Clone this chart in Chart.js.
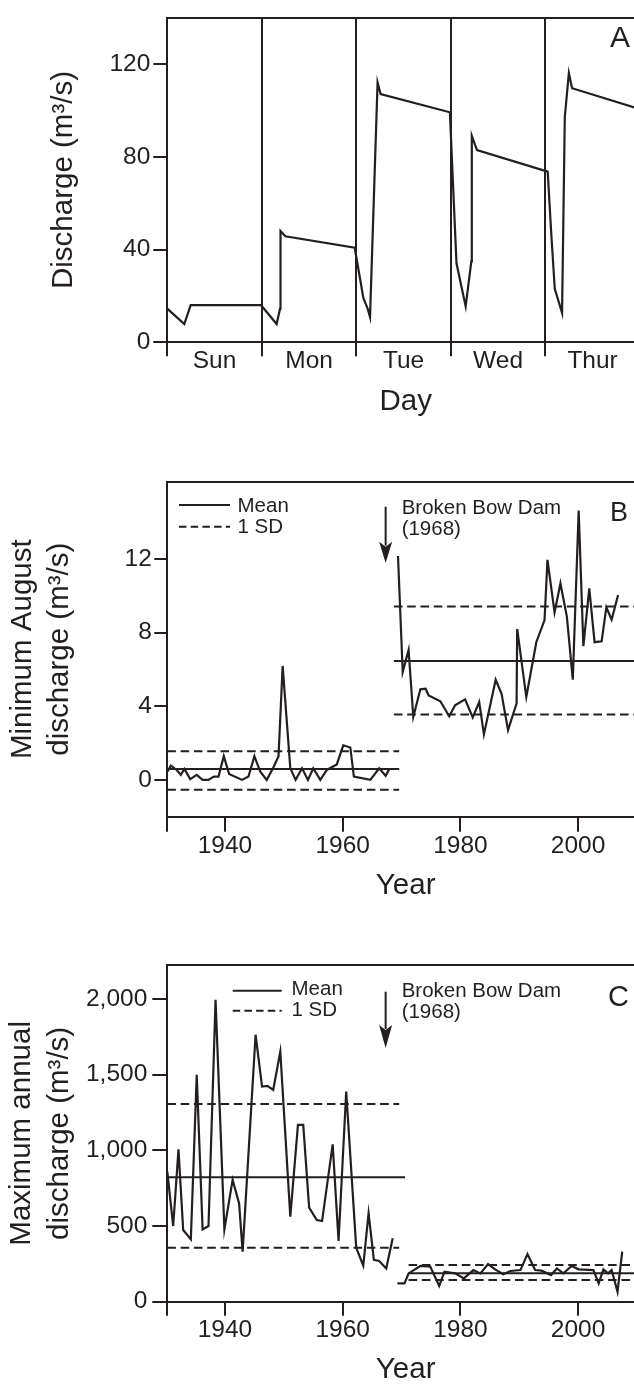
<!DOCTYPE html>
<html>
<head>
<meta charset="utf-8">
<script src="https://cdn.jsdelivr.net/npm/chart.js@4.4.1/dist/chart.umd.min.js"></script>
<style>
  html, body { margin: 0; padding: 0; background: #fff; overflow: hidden; }
  #wrap { position: relative; width: 634px; height: 1384px; overflow: hidden; background: #fff; }
  canvas { position: absolute; left: 0; }
</style>
</head>
<body>
<div id="wrap">
  <canvas id="cA" width="644" height="420" style="top:0px"></canvas>
  <canvas id="cB" width="644" height="465" style="top:440px"></canvas>
  <canvas id="cC" width="644" height="460" style="top:930px"></canvas>
</div>
<script>
// ---------------- Panel A: hourly discharge over days ----------------
const dayLabels = ['Sun', 'Mon', 'Tue', 'Wed', 'Thur'];
const dayTicks = [0, 0.5, 1, 1.5, 2, 2.5, 3, 3.5, 4, 4.5, 5];
const dischargeTicksA = [0, 40, 80, 120];
const dayTime = [0, 0.18, 0.247, 0.992, 1.157, 1.193, 1.198, 1.249, 1.983, 2.075, 2.12, 2.145, 2.225, 2.257, 2.99,
  3.06, 3.157, 3.217, 3.222, 3.277, 4.025, 4.065, 4.1, 4.177, 4.206, 4.249, 4.283, 5.044];
const dayFlow = [14.5, 7.9, 16.0, 16.0, 7.9, 14.5, 48.0, 45.7, 40.8, 19.0, 14.5, 10.9, 112.1, 107.1, 99.2,
  34.1, 15.5, 34.9, 89.1, 82.9, 73.6, 45.3, 23.1, 12.7, 97.2, 116.1, 109.6, 100.0];

// ---------------- Panel B: minimum August discharge ----------------
const yearTicks = [1940, 1960, 1980, 2000];
const minAugTicks = [0, 4, 8, 12];
const bPreYears = [1930.2, 1930.8, 1931.8, 1932.5, 1933.1, 1934.1, 1935.2, 1936.2, 1937.2, 1938.1, 1938.9, 1939.8,
  1940.7, 1942.9, 1944.0, 1945.0, 1946.0, 1947.1, 1948.2, 1949.1, 1949.8, 1951.1, 1952.0, 1953.1, 1954.1, 1955.0,
  1956.2, 1957.3, 1959.0, 1960.1, 1961.3, 1961.9, 1964.7, 1966.2, 1967.3, 1967.9];
const bPreFlow = [0.45, 0.77, 0.54, 0.27, 0.59, 0.04, 0.27, 0.0, 0.0, 0.18, 0.18, 1.29,
  0.32, 0.0, 0.18, 1.29, 0.45, 0.0, 0.66, 1.29, 6.19, 0.63, 0.0, 0.63, 0.0, 0.63,
  0.0, 0.54, 0.84, 1.88, 1.76, 0.18, 0.0, 0.63, 0.22, 0.57];
const bPostYears = [1969.4, 1970.2, 1971.2, 1972.0, 1973.2, 1974.1, 1974.6, 1976.6, 1978.1, 1979.1, 1980.8, 1982.1,
  1983.2, 1984.0, 1986.0, 1987.0, 1988.1, 1988.9, 1989.55, 1989.65, 1991.2, 1992.9, 1994.3, 1994.8, 1996.0, 1997.0,
  1998.1, 1999.1, 2000.1, 2000.9, 2001.9, 2002.8, 2004.0, 2004.8, 2005.7, 2006.8];
const bPostFlow = [12.16, 5.86, 7.06, 3.42, 4.92, 4.95, 4.59, 4.27, 3.46, 4.05, 4.38, 3.39,
  4.23, 2.47, 5.44, 4.68, 2.70, 3.51, 4.14, 8.2, 4.5, 7.48, 8.68, 11.95, 9.1, 10.67,
  8.86, 5.44, 14.63, 7.26, 10.41, 7.48, 7.53, 9.37, 8.7, 10.04];
const bPreLevels = [0.59, 1.56, -0.54];     // mean, +1 SD, -1 SD
const bPostLevels = [6.46, 9.42, 3.55];
const bPreSpan = [1930.2, 1969.6];
const bPostSpan = [1968.7, 2011.2];

// ---------------- Panel C: maximum annual discharge ----------------
const maxAnnTicks = [0, 500, 1000, 1500, 2000];
const cPreYears = [1930.2, 1931.2, 1932.1, 1932.9, 1934.2, 1935.2, 1936.2, 1937.2, 1938.4, 1939.9, 1941.3, 1942.4,
  1943.0, 1945.2, 1946.3, 1947.2, 1948.2, 1949.4, 1951.1, 1952.4, 1953.3, 1954.3, 1955.6, 1956.5, 1958.3, 1959.3,
  1960.6, 1962.3, 1963.5, 1964.4, 1965.3, 1966.2, 1967.4, 1968.5];
const cPreFlow = [860, 500, 1007, 474, 412, 1499, 478, 500, 1995, 478, 805, 650,
  331, 1764, 1422, 1426, 1400, 1653, 562, 1168, 1168, 622, 540, 533, 1040, 401,
  1389, 357, 238, 584, 276, 269, 220, 419];
const cPostYears = [1969.3, 1970.5, 1971.2, 1973.2, 1974.9, 1976.4, 1977.3, 1979.1, 1980.6, 1982.2, 1983.4, 1984.7,
  1985.9, 1987.3, 1988.5, 1990.2, 1991.4, 1992.7, 1993.8, 1995.4, 1996.4, 1997.5, 1998.9, 2000.1, 2002.6, 2003.5,
  2004.3, 2005.1, 2005.7, 2006.7, 2007.5];
const cPostFlow = [121, 121, 187, 236, 231, 104, 198, 187, 154, 209, 187, 249,
  214, 181, 203, 209, 315, 209, 205, 176, 220, 187, 236, 214, 209, 121,
  214, 187, 209, 66, 331];
const cPreLevels = [822, 1307, 357];
const cPostLevels = [188, 243, 143.5];
const cPreMeanSpan = [1930.2, 1970.6];
const cPreSdSpan = [1930.2, 1969.6];
const cPostSpan = [1971.2, 2011.2];

const yearMin = 1930.2, yearMax = 2011.2;
const damArrowYear = 1967.3;

// ---------------- styling ----------------
const INK = '#231f20';
const FONT = '"Liberation Sans", Arial, Helvetica, sans-serif';
const NONE = 'rgba(0,0,0,0)';
const DASH = [8.6, 4.7];

function pts(xs, ys) { return xs.map((x, i) => ({ x: x, y: ys[i] })); }
function seg(span, level) { return [{ x: span[0], y: level }, { x: span[1], y: level }]; }
function series(data) {
  return { data: data, borderColor: INK, borderWidth: 2.2, pointRadius: 0, tension: 0, fill: false, borderJoinStyle: 'miter' };
}
function levelLine(data, dashed) {
  return { data: data, borderColor: INK, borderWidth: 2, pointRadius: 0, tension: 0, fill: false, borderDash: dashed ? DASH : [] };
}

const annot = {
  id: 'annot',
  afterDraw(chart, _args, o) {
    if (!o || !o.letter) return;
    const c = chart.ctx;
    c.save();
    c.fillStyle = INK; c.strokeStyle = INK;
    c.font = o.letterSize + 'px ' + FONT;
    c.textAlign = 'right'; c.textBaseline = 'alphabetic';
    c.fillText(o.letter, o.letterX, o.letterY);
    if (o.legend) {
      const L = o.legend;
      c.lineWidth = 2;
      c.setLineDash([]);
      c.beginPath(); c.moveTo(L.x0, L.y1); c.lineTo(L.x1, L.y1); c.stroke();
      c.setLineDash([7.5, 4.2]);
      c.beginPath(); c.moveTo(L.x0, L.y2); c.lineTo(L.x1, L.y2); c.stroke();
      c.setLineDash([]);
      c.font = L.size + 'px ' + FONT;
      c.textAlign = 'left'; c.textBaseline = 'middle';
      c.fillText('Mean', L.tx, L.ty1);
      c.fillText('1 SD', L.tx, L.ty2);
    }
    if (o.arrow) {
      const A = o.arrow;
      const x = chart.scales.x.getPixelForValue(A.year);
      c.lineWidth = 2;
      c.beginPath(); c.moveTo(x, A.y0); c.lineTo(x, A.head + 4); c.stroke();
      c.beginPath();
      c.moveTo(x, A.tip);
      c.lineTo(x - 6.5, A.head);
      c.lineTo(x, A.head + 5);
      c.lineTo(x + 6.5, A.head);
      c.closePath(); c.fill();
      c.font = A.size + 'px ' + FONT;
      c.textAlign = 'left'; c.textBaseline = 'alphabetic';
      c.fillText('Broken Bow Dam', x + 16, A.t1);
      c.fillText('(1968)', x + 16, A.t2);
    }
    c.restore();
  }
};

function topBorder(min, max) {
  return {
    type: 'linear', position: 'top', min: min, max: max,
    grid: { display: false, drawTicks: false },
    ticks: { display: false },
    border: { display: true, color: INK, width: 2 },
    afterFit: s => { s.height = 0; }
  };
}

function yearAxis(height, tickLen, titlePad) {
  return {
    type: 'linear', min: yearMin, max: yearMax,
    afterBuildTicks: s => { s.ticks = [yearMin].concat(yearTicks).map(v => ({ value: v })); },
    ticks: {
      autoSkip: false, maxRotation: 0, padding: 0, color: INK,
      font: { family: FONT, size: 24.5 },
      callback: v => (v === yearMin ? '' : String(v))
    },
    grid: { drawOnChartArea: false, drawTicks: true, tickLength: tickLen, color: INK, tickColor: INK, lineWidth: 2 },
    border: { color: INK, width: 2 },
    title: { display: true, text: 'Year', color: INK, font: { family: FONT, size: 29.5 }, padding: { top: 0, bottom: titlePad } },
    afterFit: s => { s.height = height; }
  };
}

function leftAxis(min, max, tickVals, fmt, tickLen, pad, title, titlePad, lh) {
  return {
    type: 'linear', min: min, max: max,
    afterBuildTicks: s => { s.ticks = tickVals.map(v => ({ value: v })); },
    ticks: { autoSkip: false, padding: pad, color: INK, font: { family: FONT, size: 24.5 }, callback: fmt },
    grid: { drawOnChartArea: false, drawTicks: true, tickLength: tickLen, color: INK, tickColor: INK, lineWidth: 2 },
    border: { color: INK, width: 2 },
    title: { display: true, text: title, color: INK, font: { family: FONT, size: 29.5, lineHeight: lh }, padding: { top: titlePad, bottom: 0 } },
    afterFit: s => { s.width = 167.3; }
  };
}

const common = {
  responsive: false, animation: false, devicePixelRatio: 1,
  events: [],
  plugins: { legend: { display: false }, tooltip: { enabled: false } }
};

// ---------------- Chart A ----------------
const aMax = 5.044;
new Chart(document.getElementById('cA'), {
  type: 'line',
  data: { datasets: [series(pts(dayTime, dayFlow))] },
  plugins: [annot],
  options: Object.assign({}, common, {
    layout: { padding: { top: 5, left: 0, right: 0, bottom: 0 } },
    plugins: Object.assign({}, common.plugins, { annot: { letter: 'A', letterSize: 30, letterX: 630, letterY: 47 } }),
    scales: {
      x: {
        type: 'linear', min: 0, max: aMax,
        afterBuildTicks: s => { s.ticks = dayTicks.map(v => ({ value: v })); },
        ticks: {
          autoSkip: false, maxRotation: 0, padding: -10, color: INK,
          font: { family: FONT, size: 24.5 },
          callback: v => (Number.isInteger(v) ? '' : dayLabels[Math.floor(v)])
        },
        grid: {
          drawOnChartArea: true, drawTicks: true, tickLength: 14, lineWidth: 2,
          color: c => (c.tick && Number.isInteger(c.tick.value) ? INK : NONE),
          tickColor: c => (c.tick && Number.isInteger(c.tick.value) ? INK : NONE)
        },
        border: { color: INK, width: 2 },
        title: { display: true, text: 'Day', color: INK, font: { family: FONT, size: 29.5 }, padding: { top: 0, bottom: 0 } },
        afterFit: s => { s.height = 77.7; }
      },
      xTop: topBorder(0, aMax),
      y: leftAxis(0, 140, dischargeTicksA, v => String(v), 14, 3, 'Discharge (m³/s)', 46.5, 1.2)
    }
  })
});

// ---------------- Chart B ----------------
new Chart(document.getElementById('cB'), {
  type: 'line',
  data: {
    datasets: [
      levelLine(seg(bPreSpan, bPreLevels[0]), false),
      levelLine(seg(bPreSpan, bPreLevels[1]), true),
      levelLine(seg(bPreSpan, bPreLevels[2]), true),
      levelLine(seg(bPostSpan, bPostLevels[0]), false),
      levelLine(seg(bPostSpan, bPostLevels[1]), true),
      levelLine(seg(bPostSpan, bPostLevels[2]), true),
      series(pts(bPreYears, bPreFlow)),
      series(pts(bPostYears, bPostFlow))
    ]
  },
  plugins: [annot],
  options: Object.assign({}, common, {
    layout: { padding: { top: 41.7, left: 0, right: 0, bottom: 0 } },
    plugins: Object.assign({}, common.plugins, {
      annot: {
        letter: 'B', letterSize: 27, letterX: 628, letterY: 80.5,
        legend: { x0: 179, x1: 230, y1: 65, y2: 86.7, tx: 237.5, ty1: 66.5, ty2: 87, size: 20.5 },
        arrow: { year: damArrowYear, y0: 66.7, head: 101.7, tip: 123, t1: 73.5, t2: 95, size: 20.5 }
      }
    }),
    scales: {
      x: yearAxis(88.3, 15, 1.5),
      xTop: topBorder(yearMin, yearMax),
      y: leftAxis(-2, 16.2, minAugTicks, v => String(v), 13, 2.5, ['Minimum August', 'discharge (m³/s)'], 3.8, 1.27)
    }
  })
});

// ---------------- Chart C ----------------
new Chart(document.getElementById('cC'), {
  type: 'line',
  data: {
    datasets: [
      levelLine(seg(cPreMeanSpan, cPreLevels[0]), false),
      levelLine(seg(cPreSdSpan, cPreLevels[1]), true),
      levelLine(seg(cPreSdSpan, cPreLevels[2]), true),
      levelLine(seg(cPostSpan, cPostLevels[0]), false),
      levelLine(seg(cPostSpan, cPostLevels[1]), true),
      levelLine(seg(cPostSpan, cPostLevels[2]), true),
      series(pts(cPreYears, cPreFlow)),
      series(pts(cPostYears, cPostFlow))
    ]
  },
  plugins: [annot],
  options: Object.assign({}, common, {
    layout: { padding: { top: 35, left: 0, right: 0, bottom: 0 } },
    plugins: Object.assign({}, common.plugins, {
      annot: {
        letter: 'C', letterSize: 29, letterX: 629, letterY: 75.7,
        legend: { x0: 232.7, x1: 281.7, y1: 60.7, y2: 80.7, tx: 291.5, ty1: 59.7, ty2: 80, size: 20.5 },
        arrow: { year: damArrowYear, y0: 61.7, head: 95, tip: 118, t1: 66.5, t2: 88, size: 20.5 }
      }
    }),
    scales: {
      x: yearAxis(88.3, 14, 2.3),
      xTop: topBorder(yearMin, yearMax),
      y: leftAxis(0, 2225, maxAnnTicks, v => Number(v).toLocaleString('en-US'), 15, 5, ['Maximum annual', 'discharge (m³/s)'], 3, 1.29)
    }
  })
});
</script>
</body>
</html>
